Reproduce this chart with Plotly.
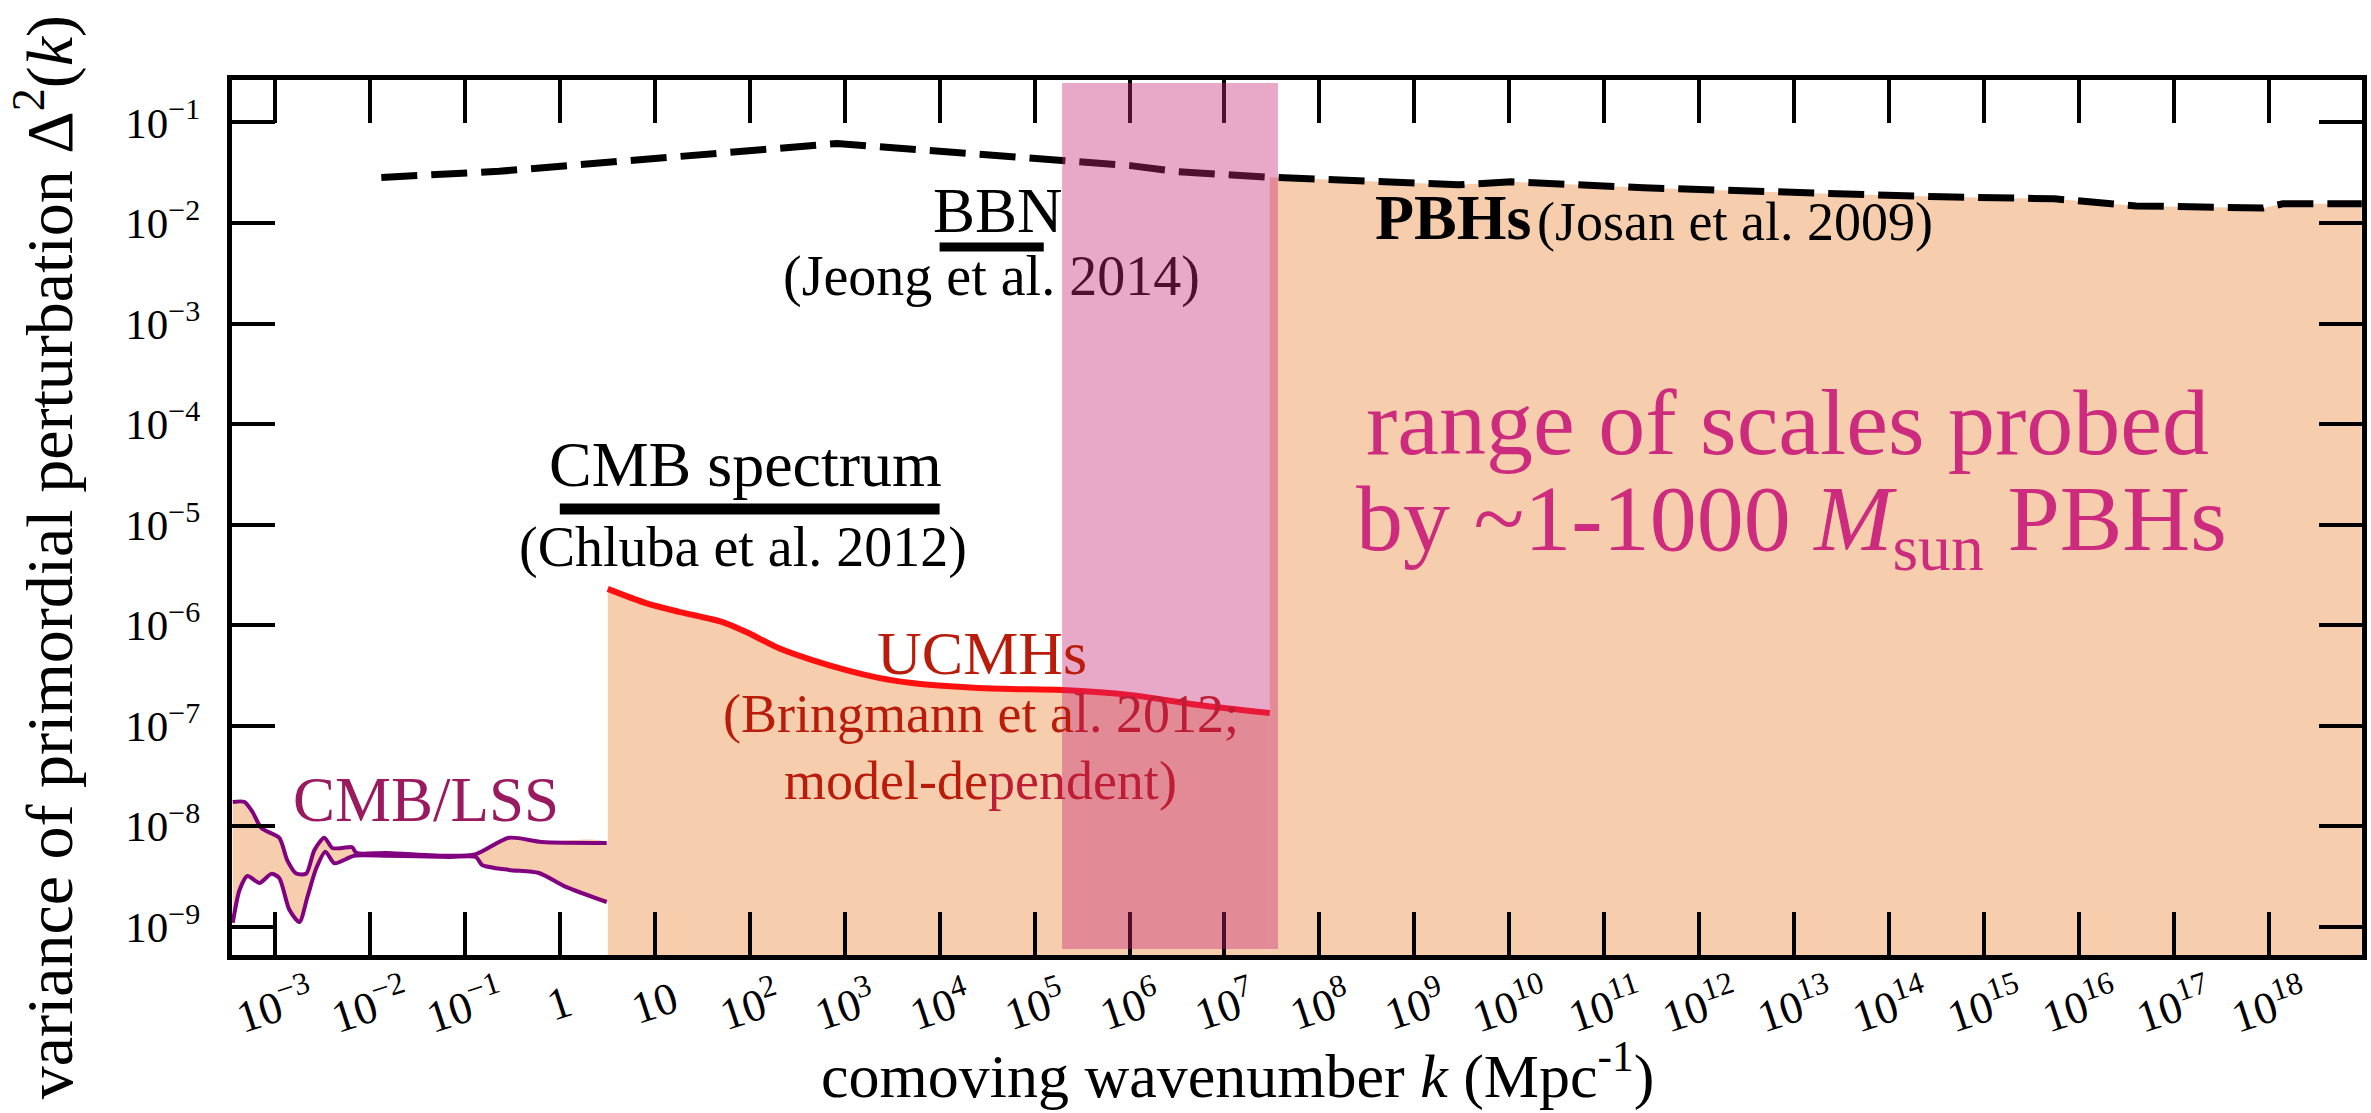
import numpy as np
import plotly.graph_objects as go

# ---------------------------------------------------------------------------
# Data: constraints on the primordial power spectrum Delta^2(k)
# ---------------------------------------------------------------------------
# CMB / large-scale-structure band (upper and lower envelopes)
cmb_lss_k_upper = [3.6e-4, 4.78e-4, 5.81e-4, 7.21e-4, 1.11e-3, 1.35e-3, 1.68e-3,
                   2.14e-3, 2.60e-3, 3.31e-3, 4.02e-3, 5.12e-3, 6.52e-3, 7.19e-3,
                   1.49e-2, 6.82e-2, 0.131, 0.292, 0.647, 3.12]
cmb_lss_upper = [1.75e-8, 1.75e-8, 1.39e-8, 9.6e-9, 7.7e-9, 4.6e-9, 3.4e-9,
                 3.4e-9, 5.8e-9, 7.7e-9, 6.1e-9, 6.1e-9, 6.2e-9, 5.45e-9,
                 5.45e-9, 5.1e-9, 5.3e-9, 7.7e-9, 7.0e-9, 6.85e-9]
cmb_lss_k_lower = [3.6e-4, 4.24e-4, 5.14e-4, 6.87e-4, 9.18e-4, 1.11e-3, 1.42e-3,
                   1.81e-3, 2.20e-3, 2.73e-3, 3.40e-3, 4.23e-3, 6.85e-3, 1.49e-2,
                   6.82e-2, 0.131, 0.152, 0.292, 0.603, 1.16, 3.12]
cmb_lss_lower = [1.10e-9, 2.33e-9, 3.21e-9, 2.74e-9, 3.37e-9, 3.07e-9, 1.48e-9,
                 1.12e-9, 1.99e-9, 3.85e-9, 5.6e-9, 4.3e-9, 5.1e-9, 5.1e-9,
                 4.97e-9, 4.97e-9, 4.13e-9, 3.69e-9, 3.44e-9, 2.50e-9, 1.77e-9]

# Ultracompact minihalo bound (Bringmann et al. 2012)
ucmh_k = [3.2, 8.1, 18, 51, 91, 204, 457, 1020, 2290, 5130, 1.17e4, 2.57e4,
          5.75e4, 1.95e5, 1.05e6, 5.4e6, 3.0e7]
ucmh_bound = [2.30e-6, 1.66e-6, 1.36e-6, 1.08e-6, 8.6e-7, 5.9e-7, 4.5e-7, 3.6e-7,
              3.0e-7, 2.67e-7, 2.49e-7, 2.38e-7, 2.32e-7, 2.27e-7, 2.02e-7,
              1.61e-7, 1.34e-7]

# PBH bound (Josan et al. 2009)
pbh_k = [0.0132, 0.23, 830, 1.12e5, 1.02e6, 3.2e6, 3.0e7, 2.9e9, 1.05e10,
         2.6e11, 9.8e12, 3.6e14, 5.5e15, 4.0e16, 8.7e17, 1.4e18, 9.5e18]
pbh_bound = [0.0284, 0.0327, 0.0617, 0.0447, 0.0372, 0.0324, 0.0285, 0.0240,
             0.0257, 0.0224, 0.0200, 0.0182, 0.0174, 0.0148, 0.0141, 0.0155,
             0.0155]
pbh_fill_start_k = 3.0e7

# k ranges probed by spectral distortions and BBN
cmb_spectrum_k = [1.0, 1.0e4]
bbn_k = [1.0e4, 1.25e5]

# k range of ~1-1000 Msun PBHs
pbh_scale_k = [1.95e5, 3.66e7]

# Axis ticks
x_tick_vals = [1e-3, 1e-2, 1e-1, 1, 10, 1e2, 1e3, 1e4, 1e5, 1e6, 1e7, 1e8, 1e9,
               1e10, 1e11, 1e12, 1e13, 1e14, 1e15, 1e16, 1e17, 1e18]
x_tick_text = ["10<sup>−3</sup>", "10<sup>−2</sup>", "10<sup>−1</sup>", "1", "10",
               "10<sup>2</sup>", "10<sup>3</sup>", "10<sup>4</sup>", "10<sup>5</sup>",
               "10<sup>6</sup>", "10<sup>7</sup>", "10<sup>8</sup>", "10<sup>9</sup>",
               "10<sup>10</sup>", "10<sup>11</sup>", "10<sup>12</sup>", "10<sup>13</sup>",
               "10<sup>14</sup>", "10<sup>15</sup>", "10<sup>16</sup>", "10<sup>17</sup>",
               "10<sup>18</sup>"]
y_tick_vals = [1e-9, 1e-8, 1e-7, 1e-6, 1e-5, 1e-4, 1e-3, 1e-2, 1e-1]
y_tick_text = ["10<sup>−9</sup>", "10<sup>−8</sup>", "10<sup>−7</sup>", "10<sup>−6</sup>",
               "10<sup>−5</sup>", "10<sup>−4</sup>", "10<sup>−3</sup>", "10<sup>−2</sup>",
               "10<sup>−1</sup>"]

# ---------------------------------------------------------------------------
# Styling
# ---------------------------------------------------------------------------
FONT = "Liberation Serif"
ORANGE = "#F7CEAD"
PURPLE = "#800080"
RED = "#FF1010"
PINK_BAND = "rgba(197,37,117,0.40)"
TXT_LSS = "#991A5E"
TXT_UCMH = "#B91C0A"
TXT_RANGE = "#CC2B7E"
BLACK_UNDER_BAND = "#4F0F2F"
RED_UNDER_BAND = "#BE1E35"

X_RANGE = [-3.452, 18.98]
Y_RANGE = [-9.279, -0.578]
FLOOR = 1e-10  # below the visible range, so fills reach the bottom axis

fig = go.Figure()

# CMB/LSS band
fig.add_trace(go.Scatter(
    x=cmb_lss_k_upper + cmb_lss_k_lower[::-1],
    y=cmb_lss_upper + cmb_lss_lower[::-1],
    fill="toself", fillcolor=ORANGE, mode="lines",
    line=dict(width=0, shape="spline", smoothing=0.7), hoverinfo="skip"))

# UCMH excluded region
fig.add_trace(go.Scatter(
    x=ucmh_k + [ucmh_k[-1], ucmh_k[0]],
    y=ucmh_bound + [FLOOR, FLOOR],
    fill="toself", fillcolor=ORANGE, line=dict(width=0), mode="lines",
    hoverinfo="skip"))

# PBH allowed region below the bound
i0 = pbh_k.index(pbh_fill_start_k)
fig.add_trace(go.Scatter(
    x=pbh_k[i0:] + [pbh_k[-1], pbh_k[i0]],
    y=pbh_bound[i0:] + [FLOOR, FLOOR],
    fill="toself", fillcolor=ORANGE, line=dict(width=0), mode="lines",
    hoverinfo="skip"))

# CMB/LSS envelopes
for kk, vv in ((cmb_lss_k_upper, cmb_lss_upper), (cmb_lss_k_lower, cmb_lss_lower)):
    fig.add_trace(go.Scatter(x=kk, y=vv, mode="lines",
                             line=dict(color=PURPLE, width=4, shape="spline",
                                       smoothing=0.7)))

# UCMH bound
fig.add_trace(go.Scatter(x=ucmh_k, y=ucmh_bound, mode="lines",
                         line=dict(color=RED, width=6, shape="spline", smoothing=0.8)))

# PBH bound
fig.add_trace(go.Scatter(x=pbh_k, y=pbh_bound, mode="lines",
                         line=dict(color="black", width=7, dash="36px,14px")))

# k-range bars for spectral distortions and BBN
fig.add_trace(go.Scatter(x=cmb_spectrum_k, y=[1.43e-5, 1.43e-5], mode="lines",
                         line=dict(color="black", width=11)))
fig.add_trace(go.Scatter(x=bbn_k, y=[5.77e-3, 5.77e-3], mode="lines",
                         line=dict(color="black", width=9)))

# Translucent band of scales probed by ~1-1000 Msun PBHs (drawn above axes)
fig.add_shape(type="rect", xref="x", yref="y",
              x0=pbh_scale_k[0], x1=pbh_scale_k[1],
              y0=10 ** -9.219, y1=10 ** -0.608,
              fillcolor=PINK_BAND, line=dict(width=0), layer="above")

# ---------------------------------------------------------------------------
# Text
# ---------------------------------------------------------------------------
def label(text, x, y, size, color="black", xanchor="center", **kw):
    fig.add_annotation(text=text, x=x, y=y, xref=kw.pop("xref", "x"),
                       yref=kw.pop("yref", "y"), showarrow=False,
                       xanchor=xanchor, yanchor=kw.pop("yanchor", "middle"),
                       font=dict(family=FONT, size=size, color=color), **kw)

label("CMB/LSS", -1.413, -7.737, 63, TXT_LSS)
label("CMB spectrum", 1.961, -4.406, 64)
label("(Chluba et al. 2012)", 1.934, -5.222, 56)
label("BBN", 4.614, -1.881, 63)
label(f"(Jeong et al. <span style='color:{BLACK_UNDER_BAND}'>2014)</span>",
      4.551, -2.527, 56)
label("<b>PBHs</b>", 8.567, -1.950, 64, xanchor="left")
label("(Josan et al. 2009)", 10.27, -1.990, 54, xanchor="left")
label("UCMHs", 4.451, -6.28, 62, TXT_UCMH)
label(f"(Bringmann et a<span style='color:{RED_UNDER_BAND}'>l. 2012;</span>",
      4.436, -6.882, 54, TXT_UCMH)
label(f"model-de<span style='color:{RED_UNDER_BAND}'>pendent)</span>",
      4.436, -7.55, 54, TXT_UCMH)
label("range of scales probed", 12.93, -3.98, 94, TXT_RANGE)
label("by ~1-1000 <i>M</i><sub>sun</sub> PBHs", 12.97, -5.003, 94, TXT_RANGE)

# x tick labels (tilted)
for v, t in zip(x_tick_vals, x_tick_text):
    label(t, float(np.log10(v)), -0.0549, 45, yref="paper", textangle=-18)

# axis titles
label("comoving wavenumber <i>k</i> (Mpc<sup>-1</sup>)", 7.137, -0.1337, 62,
      yref="paper")
label("variance of primordial perturbation Δ<sup>2</sup>(<i>k</i>)",
      -0.0876, 0.4549, 66, xref="paper", yref="paper", textangle=-90)

axis_common = dict(type="log", showline=True, linewidth=5, linecolor="black",
                   mirror="ticks", ticks="inside", ticklen=43, tickwidth=4,
                   tickcolor="black", showgrid=False, zeroline=False)

fig.update_layout(
    width=2371, height=1113,
    margin=dict(l=232, r=4, t=80, b=158, pad=0),
    paper_bgcolor="white", plot_bgcolor="white",
    showlegend=False,
    font=dict(family=FONT, color="black"),
    xaxis=dict(range=X_RANGE, tickvals=x_tick_vals, showticklabels=False,
               **axis_common),
    yaxis=dict(range=Y_RANGE, tickvals=y_tick_vals, ticktext=y_tick_text,
               tickfont=dict(family=FONT, size=43, color="black"),
               ticklabelstandoff=18, **axis_common),
)

fig.write_html("out.html")
